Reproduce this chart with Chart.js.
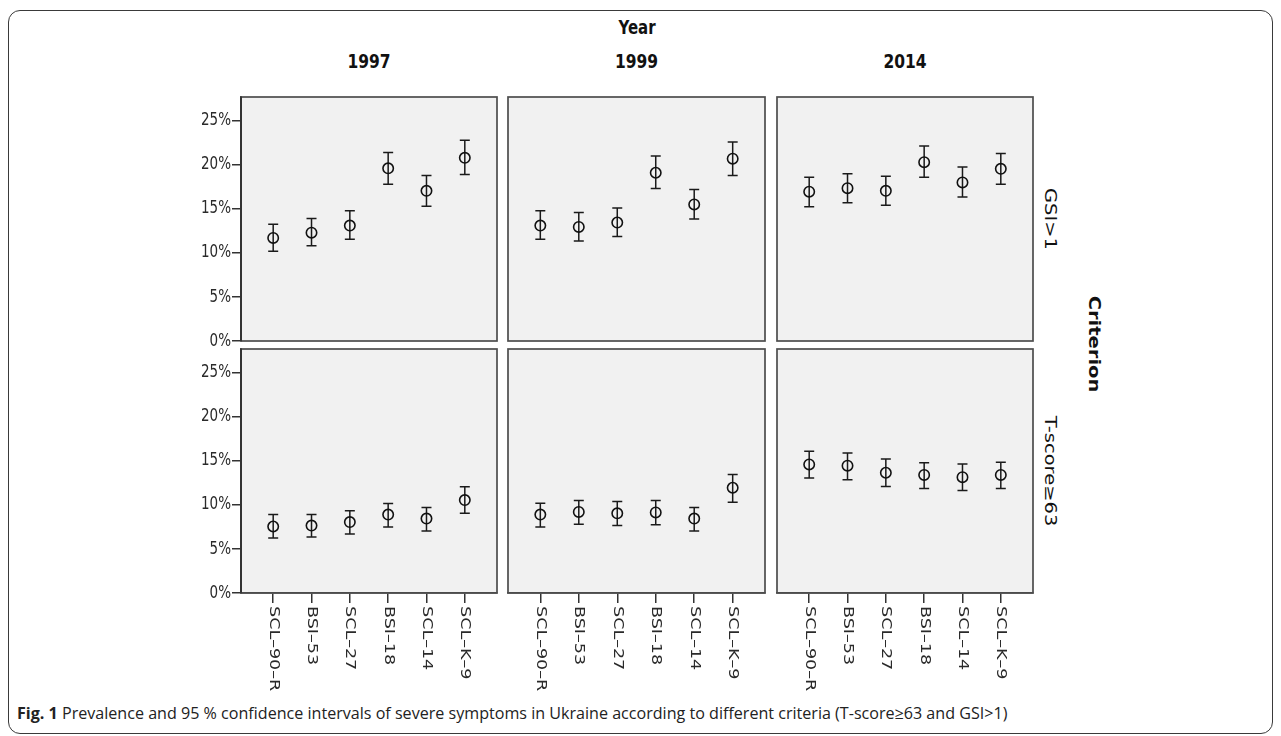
<!DOCTYPE html>
<html>
<head>
<meta charset="utf-8">
<script src="https://cdn.jsdelivr.net/npm/chart.js@4/dist/chart.umd.min.js"></script>
<style>
  html, body { margin: 0; padding: 0; background: #fff; }
  body { width: 1281px; height: 736px; position: relative; overflow: hidden; }
  #frame { position: absolute; left: 8px; top: 10px; width: 1265px; height: 724px; box-sizing: border-box;
           border: 1.5px solid #3a3a3a; border-radius: 12px; }
  canvas { position: absolute; }
  .lbl { position: absolute; white-space: nowrap; font-family: "DejaVu Sans", sans-serif; color: #111;
         line-height: 1; transform: translate(-50%, -50%) scaleY(1.3); }
  .vert { writing-mode: vertical-rl; }
  .b { font-weight: bold; }
  #caption { position: absolute; left: 17px; top: 703px; font-family: "Open Sans", sans-serif; font-size: 16.1px;
             line-height: 20px; color: #222; white-space: nowrap; }
</style>
</head>
<body>
<div id="frame"></div>
<div id="titles"></div>
<div id="caption"><b>Fig. 1</b> Prevalence and 95 % confidence intervals of severe symptoms in Ukraine according to different criteria (T-score≥63 and GSI&gt;1)</div>
<script>
// ---- data ----
const categories = ['SCL–90–R', 'BSI–53', 'SCL–27', 'BSI–18', 'SCL–14', 'SCL–K–9'];
const years = ['1997', '1999', '2014'];
const criteria = ['GSI>1', 'T-score≥63'];
const yTicks = [0, 5, 10, 15, 20, 25];

const gsi1997 = [11.7, 12.3, 13.1, 19.6, 17.05, 20.8];
const gsi1997Lo = [10.2, 10.8, 11.55, 17.8, 15.3, 18.9];
const gsi1997Hi = [13.25, 13.9, 14.8, 21.4, 18.8, 22.8];
const gsi1999 = [13.1, 12.95, 13.45, 19.1, 15.5, 20.7];
const gsi1999Lo = [11.55, 11.35, 11.85, 17.3, 13.85, 18.8];
const gsi1999Hi = [14.8, 14.6, 15.1, 21.0, 17.2, 22.6];
const gsi2014 = [16.95, 17.35, 17.05, 20.3, 18.0, 19.55];
const gsi2014Lo = [15.25, 15.7, 15.4, 18.6, 16.35, 17.8];
const gsi2014Hi = [18.6, 19.0, 18.7, 22.15, 19.75, 21.3];

const t1997 = [7.55, 7.65, 8.05, 8.9, 8.45, 10.55];
const t1997Lo = [6.25, 6.35, 6.7, 7.5, 7.05, 9.05];
const t1997Hi = [8.9, 8.9, 9.35, 10.15, 9.7, 12.05];
const t1999 = [8.9, 9.2, 9.05, 9.15, 8.45, 11.95];
const t1999Lo = [7.5, 7.8, 7.65, 7.75, 7.05, 10.3];
const t1999Hi = [10.2, 10.5, 10.4, 10.5, 9.7, 13.45];
const t2014 = [14.6, 14.45, 13.65, 13.4, 13.15, 13.4];
const t2014Lo = [13.05, 12.85, 12.1, 11.85, 11.65, 11.85];
const t2014Hi = [16.1, 15.9, 15.2, 14.8, 14.65, 14.85];

const panels = [
  [ {est: gsi1997, lo: gsi1997Lo, hi: gsi1997Hi}, {est: gsi1999, lo: gsi1999Lo, hi: gsi1999Hi}, {est: gsi2014, lo: gsi2014Lo, hi: gsi2014Hi} ],
  [ {est: t1997, lo: t1997Lo, hi: t1997Hi}, {est: t1999, lo: t1999Lo, hi: t1999Hi}, {est: t2014, lo: t2014Lo, hi: t2014Hi} ]
];

// ---- layout ----
const colLeft = [241, 508, 777];
const colW = [256, 257, 256];
const rowTop = [97, 349];
const rowH = 244;
const PAD = 12;
const Y_AXIS_W = 60;
const X_AXIS_H = 110;
const TXT_STRETCH = 1.3;

const panelPlugin = {
  id: 'panel',
  beforeDraw(chart) {
    const a = chart.chartArea, ctx = chart.ctx;
    ctx.save();
    ctx.fillStyle = '#f1f1f1';
    ctx.fillRect(a.left, a.top, a.right - a.left, a.bottom - a.top);
    ctx.restore();
  },
  beforeDatasetsDraw(chart) {
    const ctx = chart.ctx, ys = chart.scales.y, xs = chart.scales.x;
    const p = chart.options.plugins.panel;
    ctx.save();
    ctx.strokeStyle = '#1a1a1a';
    ctx.lineWidth = 1.5;
    p.lo.forEach((lo, i) => {
      const x = xs.getPixelForValue(i);
      const y1 = ys.getPixelForValue(lo), y2 = ys.getPixelForValue(p.hi[i]);
      ctx.beginPath();
      ctx.moveTo(x, y1); ctx.lineTo(x, y2);
      ctx.moveTo(x - 5, y1); ctx.lineTo(x + 5, y1);
      ctx.moveTo(x - 5, y2); ctx.lineTo(x + 5, y2);
      ctx.stroke();
    });
    ctx.restore();
  },
  afterDraw(chart) {
    const a = chart.chartArea, ctx = chart.ctx, p = chart.options.plugins.panel;
    ctx.save();
    ctx.strokeStyle = '#4d4d4d';
    ctx.lineWidth = 1.7;
    ctx.strokeRect(a.left, a.top, a.right - a.left, a.bottom - a.top);
    ctx.fillStyle = '#2a2a2a';
    if (p.yLabels) {
      ctx.strokeStyle = '#333';
      ctx.lineWidth = 2;
      ctx.beginPath(); ctx.moveTo(a.left, a.top); ctx.lineTo(a.left, a.bottom); ctx.stroke();
      ctx.font = '13.5px "DejaVu Sans"';
      ctx.textAlign = 'right';
      ctx.textBaseline = 'middle';
      yTicks.forEach(v => {
        const y = chart.scales.y.getPixelForValue(v);
        ctx.save();
        ctx.translate(a.left - 10, y);
        ctx.scale(1, TXT_STRETCH);
        ctx.fillText(v + '%', 0, 0);
        ctx.restore();
      });
    }
    if (p.xLabels) {
      ctx.font = '13.5px "DejaVu Sans"';
      ctx.textAlign = 'left';
      ctx.textBaseline = 'middle';
      categories.forEach((c, i) => {
        const x = chart.scales.x.getPixelForValue(i);
        ctx.save();
        ctx.translate(x, a.bottom + 13);
        ctx.rotate(Math.PI / 2);
        ctx.scale(TXT_STRETCH, 1);
        ctx.fillText(c, 0, 0);
        ctx.restore();
      });
    }
    ctx.restore();
  }
};

for (let r = 0; r < 2; r++) {
  for (let c = 0; c < 3; c++) {
    const d = panels[r][c];
    const hasY = c === 0, hasX = r === 1;
    const w = PAD * 2 + colW[c] + (hasY ? Y_AXIS_W : 0);
    const h = PAD * 2 + rowH + (hasX ? X_AXIS_H : 0);
    const cv = document.createElement('canvas');
    cv.width = w; cv.height = h;
    cv.style.width = w + 'px'; cv.style.height = h + 'px';
    cv.style.left = (colLeft[c] - PAD - (hasY ? Y_AXIS_W : 0)) + 'px';
    cv.style.top = (rowTop[r] - PAD) + 'px';
    document.body.appendChild(cv);
    new Chart(cv, {
      type: 'scatter',
      data: {
        datasets: [{
          data: d.est.map((v, i) => ({x: i, y: v})),
          pointStyle: 'circle',
          pointRadius: 5.2,
          pointBorderWidth: 1.6,
          pointBorderColor: '#111',
          pointBackgroundColor: 'rgba(0,0,0,0)',
          showLine: false
        }]
      },
      options: {
        responsive: false,
        maintainAspectRatio: false,
        animation: false,
        events: [],
        layout: { padding: PAD, autoPadding: false },
        plugins: {
          legend: { display: false },
          tooltip: { enabled: false },
          panel: { lo: d.lo, hi: d.hi, yLabels: hasY, xLabels: hasX }
        },
        scales: {
          x: {
            type: 'linear', min: -0.84, max: 5.84, display: hasX,
            afterBuildTicks: s => { s.ticks = categories.map((_, i) => ({value: i})); },
            ticks: { display: false },
            grid: { drawOnChartArea: false, drawTicks: true, tickLength: 10, color: '#333', lineWidth: 1.5 },
            border: { display: true, color: '#4d4d4d', width: 1.5 },
            afterFit: s => { s.height = hasX ? X_AXIS_H : 0; }
          },
          y: {
            type: 'linear', min: 0, max: 27.7, display: hasY,
            afterBuildTicks: s => { s.ticks = yTicks.map(v => ({value: v})); },
            ticks: { display: false },
            grid: { drawOnChartArea: false, drawTicks: true, tickLength: 9, color: '#333', lineWidth: 1.5 },
            border: { display: true, color: '#333', width: 2 },
            afterFit: s => { s.width = hasY ? Y_AXIS_W : 0; }
          }
        }
      },
      plugins: [panelPlugin]
    });
  }
}

// ---- titles ----
const titles = document.getElementById('titles');
function addLabel(text, x, y, cls, size) {
  const el = document.createElement('div');
  el.className = 'lbl ' + (cls || '');
  el.textContent = text;
  el.style.left = x + 'px';
  el.style.top = y + 'px';
  el.style.fontSize = size + 'px';
  titles.appendChild(el);
}
addLabel('Year', 637, 28, 'b', 15);
years.forEach((yr, c) => addLabel(yr, colLeft[c] + colW[c] / 2, 62, 'b', 15.5));
criteria.forEach((cr, r) => addLabel(cr, 1049, rowTop[r] + rowH / 2, 'vert', 15));
addLabel('Criterion', 1093, 344, 'vert b', 15);
</script>
</body>
</html>
